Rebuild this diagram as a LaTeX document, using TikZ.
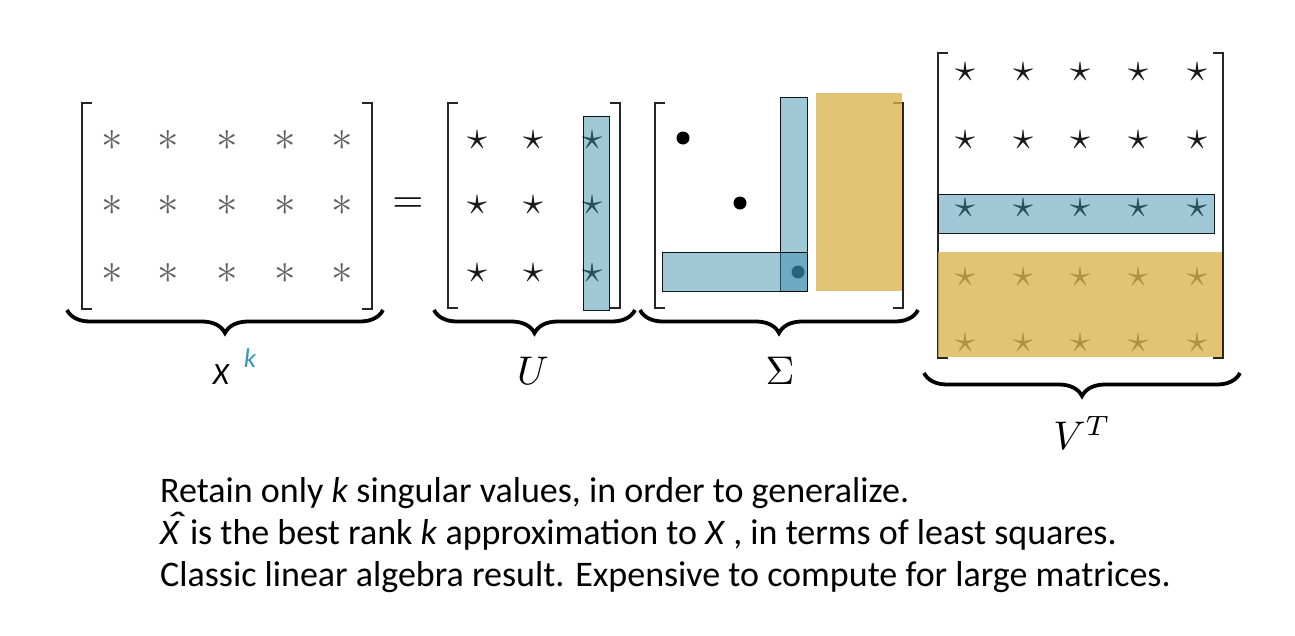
\documentclass[tikz,border=0pt]{standalone}
\usepackage{fontspec}
\setmainfont{Carlito}
\usetikzlibrary{decorations.pathreplacing}
\definecolor{ublue}{RGB}{55,140,172}
\definecolor{ugold}{RGB}{217,181,77}
\definecolor{kblue}{RGB}{60,150,185}
\newcommand{\hatX}{\makebox[0pt][l]{\hspace{0.1em}\raisebox{0.2em}{\scalebox{1.6}[1]{\textit{ˆ}}}}\textit{X}\hspace{0.05em}}
\begin{document}
\begin{tikzpicture}[x=1pt,y=-1pt,
  big/.style={scale=4, inner sep=0pt},
  astx/.style={scale=4.3, inner sep=0pt, text=black!62},
  starx/.style={big, text=black!90},
  dotx/.style={circle, fill=black, inner sep=0pt, minimum width=11pt, minimum height=13pt},
  brk/.style={line width=2.4pt, black!85},
  bluebox/.style={fill=ublue, fill opacity=0.47, draw=black, draw opacity=0.9, line width=1pt},
  goldbox/.style={fill=ugold, fill opacity=0.78, draw=none},
  brc/.style={line width=3.8pt, decorate, decoration={brace, mirror, amplitude=23pt}},
  txt/.style={font=\fontsize{36}{42}\selectfont, inner sep=0pt, anchor=base west}
]
\useasboundingbox (0,0) rectangle (1295,635);
\fill[white] (0,0) rectangle (1295,635);

% ---------- X ----------
\foreach \c [count=\i] in {112,168,227,285,342}
  \foreach \r [count=\j] in {140,205,273}
    \node[astx] (x-\j-\i) at (\c,\r) {$\ast$};
\draw[brk] (92,103) -- (82,103) -- (82,309) -- (92,309);
\draw[brk] (362,103) -- (372,103) -- (372,309) -- (362,309);
\coordinate (xbl) at (67,310);
\coordinate (xbr) at (383,310);
\draw[brc] (xbl) -- (xbr);
\node[font=\fontsize{31}{36}\selectfont\itshape, inner sep=0pt] (xlab) at (221,375) {X};
\node[font=\fontsize{27}{32}\selectfont\itshape, text=kblue, inner sep=0pt] (klab) at (250,358) {k};

\node[big] (eq) at (408,205) {$=$};

% ---------- U ----------
\foreach \c [count=\i] in {477,533,592}
  \foreach \r [count=\j] in {140,205,273}
    \node[starx] (u-\j-\i) at (\c,\r) {$\star$};
\draw[brk] (458,103) -- (448,103) -- (448,308) -- (458,308);
\draw[brk] (610,103) -- (620,103) -- (620,308) -- (610,308);
\draw[bluebox] (583,116) rectangle (609,310);
\coordinate (ubl) at (434,310);
\coordinate (ubr) at (635,310);
\draw[brc] (ubl) -- (ubr);
\node[big] (ulab) at (533,371) {$U$};

% ---------- Sigma ----------
\node[dotx] (s-1) at (683,138) {};
\node[dotx] (s-2) at (740,203) {};
\node[dotx] (s-3) at (798,272) {};
\draw[brk] (665,103) -- (655,103) -- (655,308) -- (665,308);
\draw[brk] (893,103) -- (903,103) -- (903,308) -- (893,308);
\draw[bluebox] (780,97) rectangle (807,291);
\draw[bluebox] (662,252) rectangle (807,291);
\fill[goldbox] (816,93) rectangle (902,291);
\coordinate (sbl) at (640,310);
\coordinate (sbr) at (918,310);
\draw[brc] (sbl) -- (sbr);
\node[big] (slab) at (780,371) {$\Sigma$};

% ---------- V^T ----------
\foreach \c [count=\i] in {965,1023,1080,1138,1197}
  \foreach \r [count=\j] in {72,140,208,277,343}
    \node[starx] (v-\j-\i) at (\c,\r) {$\star$};
\draw[brk] (948,53) -- (938,53) -- (938,358) -- (948,358);
\draw[brk] (1213,53) -- (1223,53) -- (1223,358) -- (1213,358);
\draw[bluebox] (938,194) rectangle (1214,233);
\fill[goldbox] (938,252) rectangle (1222,357);
\coordinate (vbl) at (924,373);
\coordinate (vbr) at (1240,373);
\draw[brc] (vbl) -- (vbr);
\node[big] (vlab) at (1082,433) {$V^T$};

% ---------- text ----------
\node[txt] (t1) at (160,502) {Retain only \textit{k} singular values, in order to generalize.};
\node[txt] (t2) at (160,544) {\hatX{} is the best rank \textit{k} approximation to \textit{X} , in terms of least squares.};
\node[txt] (t3) at (160,586) {Classic linear algebra result. Expensive to compute for large matrices.};
\end{tikzpicture}
\end{document}
